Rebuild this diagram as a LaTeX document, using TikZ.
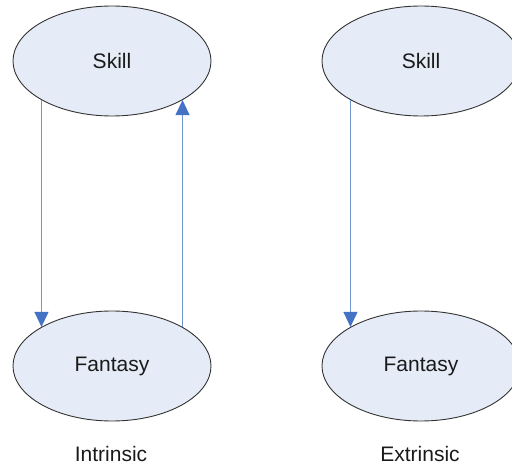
\documentclass[tikz,border=0pt]{standalone}
\usepackage{fontspec}
\setmainfont{Liberation Sans}
\usetikzlibrary{shapes.geometric,arrows.meta}
\definecolor{fillblue}{HTML}{E6ECF7}
\definecolor{lineblue}{HTML}{7096D2}
\definecolor{tipblue}{HTML}{4472C4}
\definecolor{txt}{HTML}{1A1A1A}
\begin{document}
\begin{tikzpicture}[x=1pt,y=-1pt,
  oval/.style={ellipse,draw=black!80,line width=0.9pt,fill=fillblue,minimum width=198pt,minimum height=110pt,inner sep=0pt,text=txt,font=\fontsize{21}{25}\selectfont},
  lbl/.style={text=txt,font=\fontsize{21}{25}\selectfont,inner sep=0pt},
  arr/.style={draw=lineblue,line width=1.1pt,-{Triangle[width=14pt,length=15pt,color=tipblue]}}]
\useasboundingbox (0,0) rectangle (512,468);
\node[oval] (s1) at (112,61) {Skill};
\node[oval] (f1) at (112,366) {Fantasy};
\node[oval] (s2) at (421,61) {Skill};
\node[oval] (f2) at (421,366) {Fantasy};
\node[lbl] (l1) at (111,454) {Intrinsic};
\node[lbl] (l2) at (420,454) {Extrinsic};
\draw[arr] (s1.209) -- (f1.151);
\draw[arr] (f1.29) -- (s1.331);
\draw[arr] (s2.209) -- (f2.151);
\end{tikzpicture}
\end{document}
